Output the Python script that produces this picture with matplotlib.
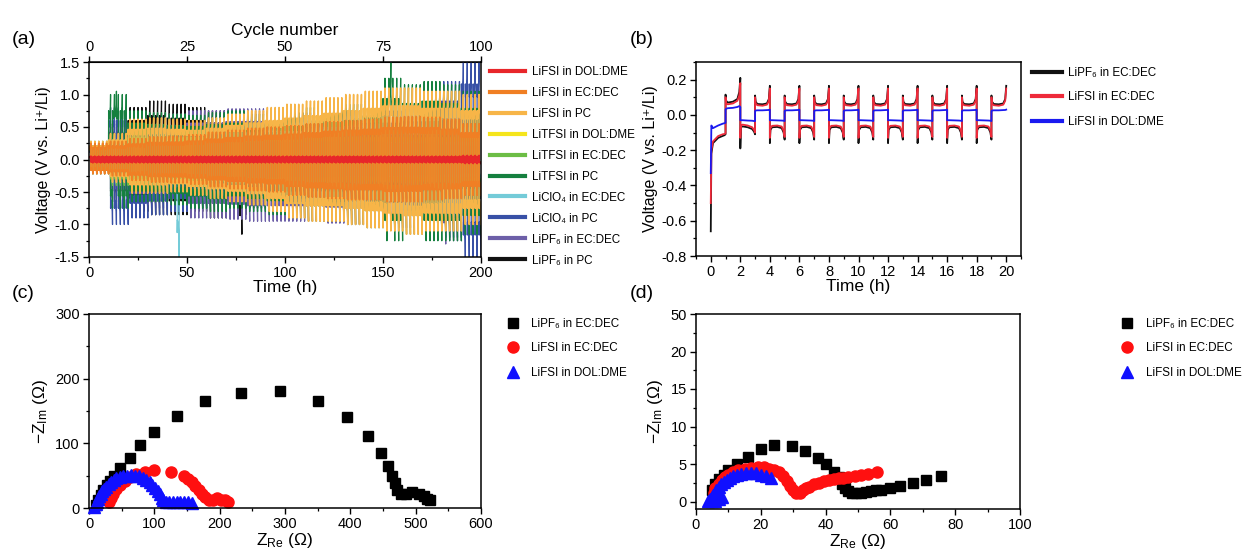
import numpy as np
import matplotlib
matplotlib.use('Agg')
import matplotlib.pyplot as plt
from matplotlib.ticker import MultipleLocator, FormatStrFormatter

plt.rcParams['font.family'] = ['Liberation Sans', 'DejaVu Sans']
plt.rcParams['mathtext.fontset'] = 'custom'
plt.rcParams['mathtext.rm'] = 'Liberation Sans'
plt.rcParams['mathtext.it'] = 'Liberation Sans:italic'
plt.rcParams['axes.unicode_minus'] = False

# ---- (a) long-term cycling: peak polarization, read every 10 h ----
a_env_t = [0, 10, 20, 30, 40, 50, 60, 70, 80, 90, 100,
           110, 120, 130, 140, 150, 160, 170, 180, 190, 200]
a_labels = ['LiFSI in DOL:DME', 'LiFSI in EC:DEC', 'LiFSI in PC', 'LiTFSI in DOL:DME',
            'LiTFSI in EC:DEC', 'LiTFSI in PC', 'LiClO₄ in EC:DEC', 'LiClO₄ in PC',
            'LiPF₆ in EC:DEC', 'LiPF₆ in PC']
a_colors = ['#e8262a', '#f07f24', '#f7b548', '#f5e51c', '#6cbd45',
            '#15803f', '#74cbd8', '#3850a6', '#6d5fa8', '#111111']
a_up = [
    [0.05] * 19 + [0.06, 0.06],
    [0.25, 0.28, 0.32, 0.35, 0.36, 0.38, 0.42, 0.45, 0.48, 0.50, 0.52, 0.55, 0.58, 0.60, 0.62, 0.65, 0.66, 0.65, 0.62, 0.55, 0.52],
    [0.28, 0.40, 0.62, 0.64, 0.62, 0.60, 0.64, 0.70, 0.75, 0.80, 0.85, 0.90, 0.95, 1.00, 1.05, 1.10, 1.10, 1.05, 1.05, 1.00, 1.00],
    [0.06] * 21,
    [0.22, 0.40, 0.45, 0.45, 0.45, 0.45, 0.45, 0.45, 0.45, 0.45, 0.45, 0.45, 0.45, 0.45, 0.45, 0.45, 0.45, 0.45, 0.45, 0.45, 0.45],
    [0.28, 1.00, 0.75, 0.72, 0.70, 0.68, 0.72, 0.75, 0.70, 0.72, 0.72, 0.80, 0.82, 0.85, 0.90, 1.25, 1.15, 1.20, 1.15, 1.05, 1.00],
    [0.22, 0.32, 0.38, 0.40, 0.40, 0.45, 0.55, 0.55, 0.55, 0.55, 0.52, 0.52, 0.48, 0.45, 0.45, 0.42, 0.40, 0.40, 0.38, 0.35, 0.35],
    [0.18, 0.80, 0.65, 0.60, 0.55, 0.50, 0.50, 0.50, 0.50, 0.50, 0.50, 0.50, 0.50, 0.50, 0.50, 0.50, 0.50, 0.50, 1.20, 1.55, 1.55],
    [0.22, 0.50, 0.60, 0.65, 0.70, 0.75, 0.75, 0.78, 0.78, 0.75, 0.72, 0.72, 0.75, 0.75, 0.75, 0.75, 0.78, 0.78, 0.80, 0.80, 0.80],
    [0.22, 0.55, 0.80, 0.90, 0.85, 0.80, 0.75, 0.72, 0.60, 0.55, 0.50, 0.50, 0.50, 0.50, 0.50, 0.50, 0.50, 0.50, 0.50, 0.50, 0.50],
]
a_low = [
    [0.05] * 19 + [0.06, 0.06],
    [0.22, 0.25, 0.32, 0.35, 0.36, 0.38, 0.42, 0.45, 0.48, 0.50, 0.55, 0.58, 0.60, 0.62, 0.62, 0.65, 0.65, 0.62, 0.60, 0.55, 0.52],
    [0.22, 0.35, 0.52, 0.52, 0.50, 0.55, 0.60, 0.65, 0.70, 0.80, 0.90, 0.95, 0.95, 1.00, 1.05, 1.10, 1.15, 1.10, 1.10, 1.00, 1.00],
    [0.06] * 21,
    [0.22, 0.40, 0.45, 0.45, 0.45, 0.45, 0.45, 0.45, 0.45, 0.45, 0.45, 0.45, 0.45, 0.45, 0.45, 0.45, 0.45, 0.45, 0.45, 0.45, 0.45],
    [0.22, 0.75, 0.65, 0.65, 0.70, 0.75, 0.80, 0.75, 0.80, 0.85, 0.90, 0.95, 0.95, 1.00, 1.05, 1.25, 1.15, 1.25, 1.25, 1.15, 1.05],
    [0.22, 0.38, 0.45, 0.45, 0.45, 0.45, 0.45, 0.48, 0.48, 0.50, 0.50, 0.50, 0.45, 0.42, 0.42, 0.42, 0.40, 0.40, 0.38, 0.35, 0.35],
    [0.18, 1.00, 0.90, 0.85, 0.80, 0.75, 0.65, 0.65, 0.65, 0.65, 0.65, 0.65, 0.65, 0.65, 0.65, 0.65, 0.65, 0.65, 1.20, 1.55, 1.55],
    [0.22, 0.60, 0.70, 0.75, 0.80, 0.90, 0.90, 0.92, 0.95, 0.95, 0.95, 0.95, 0.98, 1.00, 1.00, 1.05, 1.05, 1.10, 1.25, 1.15, 1.15],
    [0.20, 0.65, 0.80, 0.85, 0.85, 0.80, 0.90, 0.85, 0.75, 0.65, 0.60, 0.60, 0.60, 0.60, 0.60, 0.60, 0.60, 0.60, 0.60, 0.60, 0.60],
]
# profile inside one half-cycle (fraction of the hour, fraction of the peak)
a_shape_frac = [0.0, 0.1, 0.5, 0.9, 1.0]
a_shape_ratio = [0.75, 0.62, 0.65, 0.8, 1.0]
a_lw = [1.4, 1.2, 1.1, 1.0, 0.9, 0.9, 0.9, 0.9, 0.9, 0.9]
# isolated spikes (series index, hour, voltage)
spike_series = [6, 9, 5, 8, 5]
spike_t = [45, 77, 153, 181, 13]
spike_v = [-1.5, -1.15, 1.5, -1.3, 1.05]

# ---- (b) first 20 h: three electrolytes ----
b_labels = ['LiPF₆ in EC:DEC', 'LiFSI in EC:DEC', 'LiFSI in DOL:DME']
b_colors = ['#111111', '#ee2a3a', '#1a1af0']
b_frac = [0, 0.04, 0.15, 0.5, 0.8, 0.93, 1.0]
b_first = [[-0.66, -0.22, -0.16, -0.13, -0.12, -0.115, -0.11],
           [-0.50, -0.20, -0.15, -0.12, -0.11, -0.108, -0.105],
           [-0.33, -0.06, -0.075, -0.06, -0.05, -0.047, -0.045]]
b_second = [[0.115, 0.08, 0.07, 0.075, 0.09, 0.13, 0.21],
            [0.10, 0.065, 0.06, 0.065, 0.08, 0.11, 0.18],
            [0.03, 0.035, 0.038, 0.04, 0.045, 0.05, 0.045]]
b_strip = [[0.11, 0.075, 0.062, 0.06, 0.065, 0.09, 0.165],
           [0.10, 0.065, 0.055, 0.052, 0.058, 0.08, 0.15],
           [0.022, 0.025, 0.026, 0.026, 0.027, 0.028, 0.03]]
b_plate = [[-0.16, -0.085, -0.07, -0.068, -0.075, -0.10, -0.14],
           [-0.13, -0.075, -0.062, -0.06, -0.066, -0.09, -0.125],
           [-0.03, -0.03, -0.03, -0.031, -0.032, -0.033, -0.035]]
b_third = [[-0.19, -0.07, -0.065, -0.07, -0.08, -0.095, -0.11],
           [-0.13, -0.06, -0.055, -0.06, -0.07, -0.085, -0.10],
           [-0.03, -0.03, -0.03, -0.032, -0.033, -0.035, -0.035]]

# ---- (c) EIS ----
c_pf6_x = [10, 14, 18, 22, 27, 32, 38, 48, 62, 78, 100, 135, 178, 232, 292, 350, 395, 427, 447,
           458, 464, 468, 472, 478, 485, 495, 505, 512, 518, 522]
c_pf6_y = [5, 12, 20, 28, 35, 42, 50, 62, 78, 97, 118, 142, 165, 178, 181, 166, 141, 112, 85,
           65, 50, 38, 28, 22, 22, 24, 22, 18, 14, 12]
c_fsi_x = [30, 33, 37, 42, 48, 55, 63, 72, 85, 100, 125, 145, 152, 158, 163, 168, 173, 178, 184,
           190, 196, 202, 208, 213]
c_fsi_y = [10, 16, 22, 30, 36, 42, 48, 52, 56, 58, 56, 50, 45, 40, 34, 28, 22, 17, 13,
           12, 15, 13, 12, 10]
c_dol_x = [8, 10, 12, 14, 16, 18, 20, 23, 26, 30, 34, 38, 42, 47, 52, 58, 64, 70, 76, 82, 88,
           93, 97, 101, 105, 108, 111, 114, 118, 123, 128, 134, 140, 146, 152, 158]
c_dol_y = [2, 6, 10, 14, 18, 22, 26, 30, 33, 37, 40, 43, 46, 48, 49, 50, 51, 50, 49, 47, 44,
           40, 36, 31, 26, 21, 16, 12, 10, 10, 10, 10, 10, 9, 9, 8]

# ---- (d) EIS ----
d_pf6_x = [5, 6, 7, 8.5, 10, 12.5, 16, 20, 24, 29.5, 33.5, 37.5, 40, 42.5, 44, 45, 46, 47, 48,
           49.5, 51, 52.5, 54, 55.5, 57, 60, 63, 67, 71, 75.5]
d_pf6_y = [1.5, 2.3, 3.0, 3.5, 4.2, 5.0, 6.0, 7.0, 7.5, 7.4, 6.8, 5.8, 5.0, 4.0, 3.3, 2.4, 1.8,
           1.4, 1.2, 1.1, 1.2, 1.3, 1.4, 1.5, 1.6, 1.8, 2.1, 2.5, 2.9, 3.4]
d_fsi_x = [5.5, 6, 7, 8, 9, 10, 11.5, 13, 15, 17, 19, 21, 22.5, 24, 25.5, 27, 28, 29, 30, 31,
           32, 33, 34, 35, 36.5, 38, 39.5, 41, 42.5, 44, 45.5, 47, 49, 51, 53, 56]
d_fsi_y = [1.2, 1.8, 2.4, 2.9, 3.3, 3.6, 4.0, 4.2, 4.4, 4.5, 4.6, 4.55, 4.4, 4.2, 3.9, 3.4, 2.8,
           2.1, 1.5, 1.1, 1.2, 1.5, 1.8, 2.0, 2.3, 2.5, 2.7, 2.9, 3.0, 3.1, 3.2, 3.3, 3.4, 3.5, 3.7, 3.9]
d_dol_x = [3.8, 4.3, 4.8, 5.3, 5.8, 6.3, 7, 7.8, 8.6, 9.5, 10.5, 11.5, 12.5, 14, 15.5, 17, 18.5,
           20, 21.5, 23, 5, 6, 7, 8]
d_dol_y = [0.05, 0.3, 0.6, 0.9, 1.2, 1.5, 1.9, 2.3, 2.6, 2.9, 3.2, 3.4, 3.6, 3.7, 3.8, 3.8, 3.75,
           3.6, 3.4, 3.2, 0.05, 0.1, 0.3, 0.6]

W, H = 1244, 555
fig = plt.figure(figsize=(W / 100, H / 100), dpi=100)


def box(l, t, r, b):
    return fig.add_axes([l / W, 1 - b / H, (r - l) / W, (b - t) / H])


def style(ax):
    for s in ax.spines.values():
        s.set_linewidth(1.1)
    ax.tick_params(which='major', direction='out', length=4.5, width=1.0, labelsize=10.5, pad=2)
    ax.tick_params(which='minor', direction='out', length=2.5, width=0.9)


LABEL_FS = 11.5

# (a)
ax = box(89, 62, 481, 257)
for i in range(len(a_labels) - 1, -1, -1):
    tt, vv = [], []
    for h in range(200):
        k = min(h // 10, 20)
        peak = a_up[i][k] if h % 2 == 0 else -a_low[i][k]
        for s, t, val in zip(spike_series, spike_t, spike_v):
            if s == i and t == h:
                peak = val
        tt += [h + f for f in a_shape_frac]
        vv += [peak * r for r in a_shape_ratio]
    ax.plot(tt, vv, color=a_colors[i], lw=a_lw[i], label=a_labels[i])
ax.set_xlim(0, 200)
ax.set_ylim(-1.5, 1.5)
ax.xaxis.set_major_locator(MultipleLocator(50))
ax.xaxis.set_minor_locator(MultipleLocator(25))
ax.yaxis.set_major_locator(MultipleLocator(0.5))
ax.yaxis.set_minor_locator(MultipleLocator(0.25))
ax.yaxis.set_major_formatter(FormatStrFormatter('%.1f'))
ax.set_xlabel('Time (h)', fontsize=12.5, labelpad=0)
ax.set_ylabel('Voltage (V vs. Li⁺/Li)', fontsize=LABEL_FS, labelpad=3)
style(ax)
top = ax.secondary_xaxis('top', functions=(lambda x: x / 2, lambda x: x * 2))
top.xaxis.set_major_locator(MultipleLocator(25))
top.set_xlabel('Cycle number', fontsize=12.5, labelpad=4)
top.tick_params(which='major', direction='out', length=4.5, width=1.0, labelsize=10.5, pad=1)
h, l = ax.get_legend_handles_labels()
leg = ax.legend(h[::-1], l[::-1], loc='upper left', bbox_to_anchor=(0.995, 1.035), frameon=False,
                fontsize=8.4, handlelength=3.0, handletextpad=0.6, labelspacing=0.77)
for ln in leg.get_lines():
    ln.set_linewidth(3)

# (b)
ax = box(696, 62, 1021, 256)
for i in range(3):
    tt, vv = [], []
    for n in range(20):
        if n == 0:
            prof = b_first[i]
        elif n == 1:
            prof = b_second[i]
        elif n == 2:
            prof = b_third[i]
        elif n % 2 == 1:
            prof = b_strip[i]
        else:
            prof = b_plate[i]
        tt += [n + f for f in b_frac]
        vv += prof
    ax.plot(tt, vv, color=b_colors[i], lw=1.3, label=b_labels[i])
ax.set_xlim(-1, 21)
ax.set_ylim(-0.8, 0.3)
ax.xaxis.set_major_locator(MultipleLocator(2))
ax.xaxis.set_minor_locator(MultipleLocator(1))
ax.yaxis.set_major_locator(MultipleLocator(0.2))
ax.yaxis.set_minor_locator(MultipleLocator(0.1))
ax.yaxis.set_major_formatter(FormatStrFormatter('%.1f'))
ax.set_xlabel('Time (h)', fontsize=12.5, labelpad=0)
ax.set_ylabel('Voltage (V vs. Li⁺/Li)', fontsize=LABEL_FS, labelpad=3)
style(ax)
leg = ax.legend(loc='upper left', bbox_to_anchor=(1.0, 1.03), frameon=False, fontsize=8.4,
                handlelength=2.6, handletextpad=0.5, labelspacing=1.08)
for ln in leg.get_lines():
    ln.set_linewidth(3)

# (c)
ax = box(89, 314, 481, 508)
ax.plot(c_pf6_x, c_pf6_y, 's', color='black', ms=7, ls='none', clip_on=False, label='LiPF₆ in EC:DEC')
ax.plot(c_fsi_x, c_fsi_y, 'o', color='#ff1010', ms=8, ls='none', clip_on=False, label='LiFSI in EC:DEC')
ax.plot(c_dol_x, c_dol_y, '^', color='#1010ff', ms=8, ls='none', clip_on=False, label='LiFSI in DOL:DME')
ax.set_xlim(0, 600)
ax.set_ylim(0, 300)
ax.xaxis.set_major_locator(MultipleLocator(100))
ax.xaxis.set_minor_locator(MultipleLocator(50))
ax.yaxis.set_major_locator(MultipleLocator(100))
ax.yaxis.set_minor_locator(MultipleLocator(50))
ax.set_xlabel(r'$\mathrm{Z_{Re}}$ (Ω)', fontsize=12.5, labelpad=0)
ax.set_ylabel(r'$\mathrm{-Z_{Im}}$ (Ω)', fontsize=12.5, labelpad=4)
style(ax)
ax.legend(loc='upper left', bbox_to_anchor=(1.04, 1.035), frameon=False, fontsize=8.4,
          handlelength=1.0, handletextpad=1.0, labelspacing=1.08)

# (d)
ax = box(696, 314, 1020, 509)
ax.plot(d_pf6_x, d_pf6_y, 's', color='black', ms=7, ls='none', label='LiPF₆ in EC:DEC')
ax.plot(d_fsi_x, d_fsi_y, 'o', color='#ff1010', ms=8, ls='none', label='LiFSI in EC:DEC')
ax.plot(d_dol_x, d_dol_y, '^', color='#1010ff', ms=8, ls='none', label='LiFSI in DOL:DME')
ax.set_xlim(0, 100)
ax.set_ylim(-1, 25)
ax.xaxis.set_major_locator(MultipleLocator(20))
ax.xaxis.set_minor_locator(MultipleLocator(10))
ax.set_yticks([0, 5, 10, 15, 20, 25])
ax.set_yticklabels(['0', '5', '10', '15', '20', '50'])
ax.yaxis.set_minor_locator(MultipleLocator(2.5))
ax.set_xlabel(r'$\mathrm{Z_{Re}}$ (Ω)', fontsize=12.5, labelpad=0)
ax.set_ylabel(r'$\mathrm{-Z_{Im}}$ (Ω)', fontsize=12.5, labelpad=4)
style(ax)
ax.legend(loc='upper left', bbox_to_anchor=(1.28, 1.035), frameon=False, fontsize=8.4,
          handlelength=1.0, handletextpad=1.1, labelspacing=1.08)

for x, y, s in [(12, 40, '(a)'), (630, 40, '(b)'), (12, 293, '(c)'), (630, 293, '(d)')]:
    fig.text(x / W, 1 - y / H, s, fontsize=14, va='center', ha='left')

fig.savefig('out.png', dpi=100)
